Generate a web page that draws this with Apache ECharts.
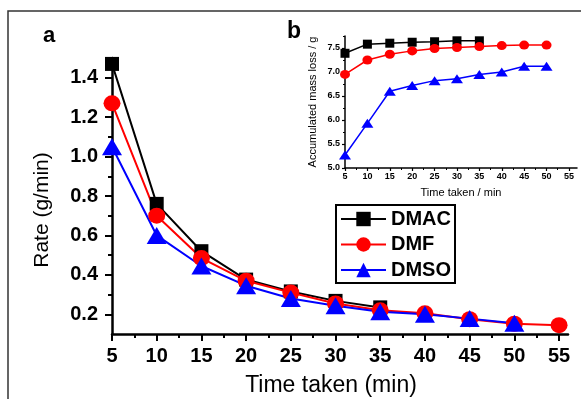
<!DOCTYPE html>
<html>
<head>
<meta charset="utf-8">
<script src="https://cdn.jsdelivr.net/npm/echarts@6/dist/echarts.min.js"></script>
<style>
  html, body { margin: 0; padding: 0; background: #fff; }
  #main { width: 581px; height: 399px; }
</style>
</head>
<body>
<div id="main"></div>
<script>
// panel a: rate vs time
var rateTimes = [5, 10, 15, 20, 25, 30, 35, 40, 45, 50, 55];
var rateDMAC = [1.47, 0.76, 0.52, 0.376, 0.316, 0.268, 0.235];
var rateDMF = [1.27, 0.70, 0.485, 0.37, 0.31, 0.255, 0.22, 0.205, 0.175, 0.152, 0.145];
var rateDMSO = [1.05, 0.60, 0.445, 0.345, 0.28, 0.243, 0.213, 0.20, 0.178, 0.155];
var rateTicksX = [5, 10, 15, 20, 25, 30, 35, 40, 45, 50, 55];
var rateMinorX = [7.5, 12.5, 17.5, 22.5, 27.5, 32.5, 37.5, 42.5, 47.5, 52.5];
var rateTicksY = [0.2, 0.4, 0.6, 0.8, 1.0, 1.2, 1.4];
var rateMinorY = [0.3, 0.5, 0.7, 0.9, 1.1, 1.3, 1.5];

// panel b (inset): accumulated mass loss
var massTimes = [5, 10, 15, 20, 25, 30, 35, 40, 45, 50];
var massDMAC = [7.39, 7.58, 7.60, 7.62, 7.63, 7.65, 7.65];
var massDMF = [6.95, 7.25, 7.37, 7.44, 7.49, 7.51, 7.53, 7.55, 7.56, 7.56];
var massDMSO = [5.27, 5.93, 6.60, 6.72, 6.82, 6.86, 6.95, 7.00, 7.12, 7.12];
var massTicksY = [5.0, 5.5, 6.0, 6.5, 7.0, 7.5];
var massMinorY = [5.25, 5.75, 6.25, 6.75, 7.25, 7.75];

function pairs(xs, ys) {
    return ys.map(function (v, i) { return [xs[i], v]; });
}

var font = 'Liberation Sans';
var myChart = echarts.init(document.getElementById('main'));

function mainAxis(extra) {
    return Object.assign({
        type: 'value',
        gridIndex: 0,
        splitLine: { show: false },
        axisLine: { show: true, onZero: false, lineStyle: { color: '#000', width: 2.5 } }
    }, extra);
}

function minorAxis(extra) {
    return Object.assign({
        type: 'value',
        splitLine: { show: false },
        axisLine: { show: false },
        axisLabel: { show: false }
    }, extra);
}

function insetAxis(extra) {
    return Object.assign({
        type: 'value',
        gridIndex: 1,
        splitLine: { show: false },
        axisLine: { show: true, onZero: false, lineStyle: { color: '#000', width: 1.5 } }
    }, extra);
}

var option = {
    animation: false,
    backgroundColor: '#fff',
    textStyle: { fontFamily: font },
    grid: [
        { left: 112, right: 13, top: 58, bottom: 65, outerBoundsMode: 'none' },
        { left: 345, right: 4, top: 36, bottom: 231, outerBoundsMode: 'none' }
    ],
    legend: {
        orient: 'vertical',
        left: 336,
        top: 205,
        data: ['DMAC', 'DMF', 'DMSO'],
        itemWidth: 45,
        itemHeight: 18,
        itemGap: 5.5,
        padding: [4, 4, 3, 4],
        borderColor: '#000',
        borderWidth: 2,
        backgroundColor: '#fff',
        textStyle: { color: '#000', fontFamily: font, fontWeight: 'bold', fontSize: 20 }
    },
    graphic: [
        { type: 'rect', z: -1, shape: { x: 8, y: 11, width: 640, height: 440 },
          style: { fill: 'none', stroke: '#333', lineWidth: 1.5 } },
        { type: 'text', left: 43, top: 25,
          style: { text: 'a', fill: '#000', font: 'bold 22px ' + font } },
        { type: 'text', left: 287, top: 20,
          style: { text: 'b', fill: '#000', font: 'bold 23px ' + font } },
        { type: 'text', x: 331, y: 386,
          style: { text: 'Time taken (min)', fill: '#000', font: '23px ' + font,
                   textAlign: 'center', textVerticalAlign: 'middle' } },
        { type: 'text', x: 42, y: 210, rotation: Math.PI / 2,
          style: { text: 'Rate (g/min)', fill: '#000', font: '21px ' + font,
                   textAlign: 'center', textVerticalAlign: 'middle' } }
    ],
    xAxis: [
        mainAxis({
            min: 5, max: 56,
            axisTick: { show: true, customValues: rateTicksX, length: 7, lineStyle: { color: '#000', width: 2 } },
            axisLabel: { customValues: rateTicksX, margin: 12, color: '#000', fontFamily: font, fontWeight: 'bold', fontSize: 20 }
        }),
        minorAxis({
            gridIndex: 0, position: 'bottom', min: 5, max: 56,
            axisTick: { show: true, customValues: rateMinorX, length: 4, lineStyle: { color: '#000', width: 2 } }
        }),
        insetAxis({
            min: 5, max: 56.8,
            name: 'Time taken / min', nameLocation: 'middle', nameGap: 19,
            nameTextStyle: { color: '#000', fontFamily: font, fontSize: 11 },
            axisTick: { show: true, customValues: rateTicksX, length: 3, lineStyle: { color: '#000', width: 1.2 } },
            axisLabel: { customValues: rateTicksX, margin: 4, color: '#000', fontFamily: font, fontWeight: 'bold', fontSize: 9 }
        }),
        minorAxis({
            gridIndex: 1, position: 'bottom', min: 5, max: 56.8,
            axisTick: { show: true, customValues: rateMinorX, length: 2, lineStyle: { color: '#000', width: 1 } }
        })
    ],
    yAxis: [
        mainAxis({
            min: 0.1, max: 1.5,
            axisTick: { show: true, customValues: rateTicksY, length: 7, lineStyle: { color: '#000', width: 2 } },
            axisLabel: {
                customValues: rateTicksY, margin: 14, color: '#000', fontFamily: font, fontWeight: 'bold', fontSize: 20,
                formatter: function (v) { return v.toFixed(1); }
            }
        }),
        minorAxis({
            gridIndex: 0, position: 'left', min: 0.1, max: 1.5,
            axisTick: { show: true, customValues: rateMinorY, length: 4, lineStyle: { color: '#000', width: 2 } }
        }),
        insetAxis({
            min: 5.0, max: 7.75,
            name: 'Accumulated mass loss / g', nameLocation: 'middle', nameGap: 27,
            nameTextStyle: { color: '#000', fontFamily: font, fontSize: 11 },
            axisTick: { show: true, customValues: massTicksY, length: 3, lineStyle: { color: '#000', width: 1.2 } },
            axisLabel: {
                customValues: massTicksY, margin: 5, color: '#000', fontFamily: font, fontWeight: 'bold', fontSize: 9,
                formatter: function (v) { return v.toFixed(1); }
            }
        }),
        minorAxis({
            gridIndex: 1, position: 'left', min: 5.0, max: 7.75,
            axisTick: { show: true, customValues: massMinorY, length: 2, lineStyle: { color: '#000', width: 1 } }
        })
    ],
    series: [
        { name: 'DMAC', type: 'line', xAxisIndex: 0, yAxisIndex: 0, data: pairs(rateTimes, rateDMAC),
          color: '#000', symbol: 'rect', symbolSize: 14, lineStyle: { width: 2 } },
        { name: 'DMF', type: 'line', xAxisIndex: 0, yAxisIndex: 0, data: pairs(rateTimes, rateDMF),
          color: '#ff0000', symbol: 'circle', symbolSize: [17, 16], lineStyle: { width: 2 } },
        { name: 'DMSO', type: 'line', xAxisIndex: 0, yAxisIndex: 0, data: pairs(rateTimes, rateDMSO),
          color: '#0000ff', symbol: 'triangle', symbolSize: [20, 17], lineStyle: { width: 2 } },
        { name: 'DMAC', type: 'line', xAxisIndex: 2, yAxisIndex: 2, data: pairs(massTimes, massDMAC),
          color: '#000', symbol: 'rect', symbolSize: 9, lineStyle: { width: 1.5 } },
        { name: 'DMF', type: 'line', xAxisIndex: 2, yAxisIndex: 2, data: pairs(massTimes, massDMF),
          color: '#ff0000', symbol: 'circle', symbolSize: [10, 9], lineStyle: { width: 1.5 } },
        { name: 'DMSO', type: 'line', xAxisIndex: 2, yAxisIndex: 2, data: pairs(massTimes, massDMSO),
          color: '#0000ff', symbol: 'triangle', symbolSize: [12, 9], lineStyle: { width: 1.5 } }
    ]
};

myChart.setOption(option);
</script>
</body>
</html>
